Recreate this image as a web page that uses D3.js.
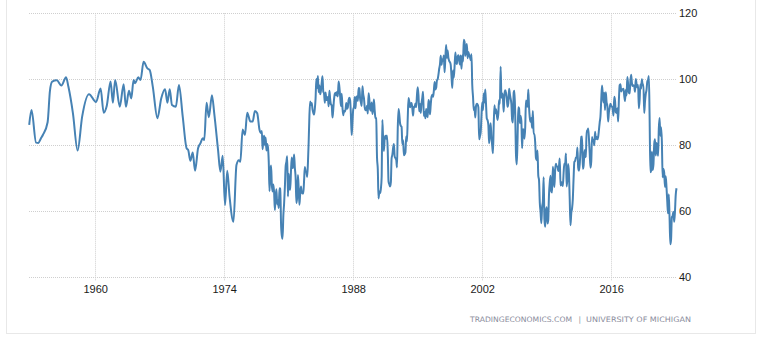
<!DOCTYPE html>
<html>
<head>
<meta charset="utf-8">
<script src="https://cdn.jsdelivr.net/npm/d3@7"></script>
<style>
  html, body { margin: 0; padding: 0; background: #fff; }
  svg { display: block; font-family: "Liberation Sans", Arial, sans-serif; }
</style>
</head>
<body>
<svg id="chart" width="767" height="339"></svg>
<script>
// ---- Data: University of Michigan Consumer Sentiment ----
// Early (irregular, roughly quarterly) observations
const earlyDates = [
  "1952-11","1953-02","1953-08","1953-11","1954-02","1954-05","1954-11","1955-02","1955-05","1955-11",
  "1956-05","1956-11","1957-02","1957-08","1958-02","1958-08","1959-05","1960-02","1960-08","1960-12",
  "1961-04","1961-09","1961-12","1962-03","1962-09","1963-02","1963-05","1963-09","1963-12","1964-03",
  "1964-05","1964-09","1964-12","1965-04","1965-09","1965-12","1966-04","1966-10","1967-03","1967-08",
  "1967-11","1968-02","1968-05","1968-10","1969-02","1969-07","1969-12","1970-02","1970-05","1970-08",
  "1970-11","1971-03","1971-06","1971-09","1971-11","1972-02","1972-05","1972-09","1972-12","1973-05",
  "1973-08","1973-11","1974-02","1974-05","1974-08","1975-01","1975-05","1975-08","1975-10","1976-01",
  "1976-04","1976-07","1976-11","1977-02","1977-05","1977-08","1977-11"
];
const earlyValues = [
  86.2, 90.7, 80.8, 80.7, 82.0, 83.2, 87.0, 96.5, 99.3, 99.7,
  98.1, 100.6, 97.8, 89.7, 78.4, 88.7, 95.5, 93.1, 97.2, 89.9,
  91.9, 99.3, 92.9, 99.8, 91.7, 98.5, 91.7, 96.5, 94.2, 99.8,
  98.8, 100.6, 99.8, 105.3, 103.3, 102.8, 97.8, 88.2, 94.2, 97.0,
  92.9, 97.0, 92.2, 91.7, 98.3, 88.7, 79.1, 78.6, 75.3, 77.8,
  72.3, 79.1, 80.6, 82.1, 81.6, 92.9, 88.5, 95.2, 89.7, 78.6,
  72.0, 76.8, 61.9, 72.3, 64.4, 56.8, 74.0, 75.5, 75.0, 84.8,
  83.1, 89.9, 87.2, 87.2, 90.4, 89.7, 84.6
];

// Monthly observations from January 1978 to February 2023
const monthlyStart = "1978-01";
const monthlyValues = [
  83.7, 84.3, 78.8, 81.6, 82.9, 80.0, 82.4, 78.4, 80.4, 79.3, 75.0, 66.1,   // 1978
  72.1, 73.9, 68.4, 66.0, 68.1, 65.8, 60.4, 64.5, 66.7, 62.1, 63.3, 61.0,   // 1979
  67.0, 66.9, 56.5, 52.7, 51.7, 58.7, 62.3, 67.3, 73.7, 75.0, 76.7, 64.5,   // 1980
  71.4, 66.9, 66.5, 72.4, 76.3, 73.1, 74.1, 77.2, 73.1, 70.3, 62.5, 64.3,   // 1981
  71.0, 66.5, 62.0, 65.5, 67.5, 65.7, 65.4, 65.4, 69.3, 73.4, 72.1, 71.9,   // 1982
  70.4, 74.6, 80.8, 89.1, 93.3, 92.2, 92.8, 90.9, 89.9, 89.3, 91.1, 94.2,   // 1983
  100.1, 97.4, 101.0, 96.1, 98.1, 95.5, 96.6, 99.1, 100.9, 96.3, 95.7, 92.9,// 1984
  96.0, 93.7, 93.7, 94.6, 91.8, 96.5, 94.0, 92.4, 92.1, 88.4, 90.9, 93.9,   // 1985
  95.6, 95.9, 95.1, 96.2, 94.8, 99.3, 97.7, 94.9, 91.9, 95.6, 91.4, 89.1,   // 1986
  90.4, 90.2, 90.8, 92.8, 91.1, 91.5, 93.7, 94.4, 93.6, 89.3, 83.1, 86.8,   // 1987
  90.8, 91.6, 94.6, 91.2, 94.8, 94.7, 93.4, 97.4, 97.3, 94.1, 93.0, 91.9,   // 1988
  97.9, 95.4, 94.3, 91.5, 90.7, 90.6, 92.0, 89.6, 95.8, 93.9, 90.9, 90.5,   // 1989
  93.0, 89.5, 91.3, 93.9, 90.6, 88.3, 88.2, 76.4, 72.8, 63.9, 66.0, 65.5,   // 1990
  66.8, 70.4, 87.7, 81.8, 78.3, 82.1, 82.9, 82.0, 83.0, 78.3, 69.1, 68.2,   // 1991
  67.5, 68.8, 76.0, 77.2, 79.2, 80.4, 76.6, 76.1, 75.6, 73.3, 85.3, 91.0,   // 1992
  89.3, 86.6, 85.9, 85.6, 80.3, 81.5, 77.0, 77.3, 77.9, 82.7, 81.2, 88.2,   // 1993
  94.3, 93.2, 91.5, 92.6, 92.8, 91.2, 89.0, 91.7, 91.5, 92.7, 91.6, 95.1,   // 1994
  97.6, 95.1, 90.3, 92.5, 89.8, 92.7, 94.4, 96.2, 88.9, 90.2, 88.2, 91.0,   // 1995
  89.3, 88.5, 93.7, 92.7, 89.4, 92.4, 94.7, 95.3, 94.7, 96.5, 99.2, 96.9,   // 1996
  97.4, 99.7, 100.0, 101.4, 103.2, 104.5, 107.1, 104.4, 106.0, 105.6, 107.2, 102.1, // 1997
  106.6, 110.4, 106.5, 108.7, 106.5, 105.6, 105.2, 104.4, 100.9, 97.4, 102.7, 100.5,// 1998
  103.9, 108.1, 105.7, 104.6, 106.8, 107.3, 106.0, 104.5, 107.2, 103.2, 107.2, 105.4,// 1999
  112.0, 111.3, 107.1, 109.2, 110.7, 106.4, 108.3, 107.3, 106.8, 105.8, 107.6, 98.4, // 2000
  94.7, 90.6, 91.5, 88.4, 92.0, 92.6, 92.4, 91.5, 81.8, 82.7, 83.9, 88.8,   // 2001
  93.0, 90.7, 95.7, 93.0, 96.9, 92.4, 88.1, 87.6, 86.1, 80.6, 84.2, 86.7,   // 2002
  82.4, 79.9, 77.6, 86.0, 92.1, 89.7, 90.9, 89.3, 87.7, 89.6, 93.7, 92.6,   // 2003
  103.8, 94.4, 95.8, 94.2, 90.2, 95.6, 96.7, 95.9, 94.2, 91.7, 92.8, 97.1,  // 2004
  95.5, 94.1, 92.6, 87.7, 86.9, 96.0, 96.5, 89.1, 76.9, 74.2, 81.6, 91.5,   // 2005
  91.2, 86.7, 88.9, 87.4, 79.1, 84.9, 84.7, 82.0, 85.4, 93.6, 92.1, 91.7,   // 2006
  96.9, 91.3, 88.4, 87.1, 88.3, 85.3, 90.4, 83.4, 83.4, 80.9, 76.1, 75.5,   // 2007
  78.4, 70.8, 69.5, 62.6, 59.8, 56.4, 61.2, 63.0, 70.3, 57.6, 55.3, 60.1,   // 2008
  61.2, 56.3, 57.3, 65.1, 68.7, 70.8, 66.0, 65.7, 73.5, 70.6, 67.4, 72.5,   // 2009
  74.4, 73.6, 73.6, 72.2, 73.6, 76.0, 67.8, 68.9, 68.2, 67.7, 71.6, 74.5,   // 2010
  74.2, 77.5, 67.5, 69.8, 74.3, 71.5, 63.7, 55.8, 59.5, 60.8, 63.7, 69.9,   // 2011
  75.0, 75.3, 76.2, 76.4, 79.3, 73.2, 72.3, 74.3, 78.3, 82.6, 82.7, 72.9,   // 2012
  73.8, 77.6, 78.6, 76.4, 84.5, 84.1, 85.1, 82.1, 77.5, 73.2, 75.1, 82.5,   // 2013
  81.2, 81.6, 80.0, 84.1, 81.9, 82.5, 81.8, 82.5, 84.6, 86.9, 88.8, 93.6,   // 2014
  98.1, 95.4, 93.0, 95.9, 90.7, 96.1, 93.1, 91.9, 87.2, 90.0, 91.3, 92.6,   // 2015
  92.0, 91.7, 91.0, 89.0, 94.7, 93.5, 90.0, 89.8, 91.2, 87.2, 93.8, 98.2,   // 2016
  98.5, 96.3, 96.9, 97.0, 97.1, 95.0, 93.4, 96.8, 95.1, 100.7, 98.5, 95.9,  // 2017
  95.7, 99.7, 101.4, 98.8, 98.0, 98.2, 97.9, 96.2, 100.1, 98.6, 97.5, 98.3, // 2018
  91.2, 93.8, 98.4, 97.2, 100.0, 98.2, 98.4, 89.8, 93.2, 95.5, 96.8, 99.3,  // 2019
  99.8, 101.0, 89.1, 71.8, 72.3, 78.1, 72.5, 74.1, 80.4, 81.8, 76.9, 80.7,  // 2020
  79.0, 76.8, 84.9, 88.3, 82.9, 85.5, 81.2, 70.3, 72.8, 71.7, 67.4, 70.6,   // 2021
  67.2, 62.8, 59.4, 65.2, 58.4, 50.0, 51.5, 58.2, 58.6, 59.9, 56.8, 59.7,   // 2022
  64.9, 67.0                                                                // 2023
];

const xTickYears = [1960, 1974, 1988, 2002, 2016];
const yTickValues = [40, 60, 80, 100, 120];
const sourceLeft = "TRADINGECONOMICS.COM";
const sourceSep = "|";
const sourceRight = "UNIVERSITY OF MICHIGAN";

// ---- Build series ----
const parseMonth = d3.timeParse("%Y-%m");
const series = earlyDates.map((d, i) => ({ date: parseMonth(d), value: earlyValues[i] }));
const start = parseMonth(monthlyStart);
monthlyValues.forEach((v, i) => {
  series.push({ date: d3.timeMonth.offset(start, i), value: v });
});

// ---- Layout ----
const svg = d3.select("#chart");
const plot = { left: 29.2, right: 676.5, top: 13.3, bottom: 277.3 };

// outer frame
svg.append("rect")
  .attr("x", 6.5).attr("y", -10)
  .attr("width", 749).attr("height", 343.5)
  .attr("fill", "none").attr("stroke", "#e8e8e8").attr("stroke-width", 1);

const x = d3.scaleTime()
  .domain(d3.extent(series, d => d.date))
  .range([plot.left, plot.right]);
const y = d3.scaleLinear()
  .domain([40, 120])
  .range([plot.bottom, plot.top]);

const gridColor = "#cfcfcf";

// horizontal gridlines
svg.append("g").selectAll("line")
  .data(yTickValues).join("line")
  .attr("x1", 29).attr("x2", 677)
  .attr("y1", d => Math.round(y(d)) + 0.5)
  .attr("y2", d => Math.round(y(d)) + 0.5)
  .attr("stroke", gridColor).attr("stroke-dasharray", "1,1");

// vertical gridlines
const yearDates = xTickYears.map(yv => new Date(yv, 0, 1));
svg.append("g").selectAll("line")
  .data(yearDates).join("line")
  .attr("x1", d => Math.round(x(d)) + 0.5)
  .attr("x2", d => Math.round(x(d)) + 0.5)
  .attr("y1", plot.top).attr("y2", plot.bottom + 3)
  .attr("stroke", gridColor).attr("stroke-dasharray", "1,1");

// y labels (right side)
svg.append("g").selectAll("text")
  .data(yTickValues).join("text")
  .attr("x", 679)
  .attr("y", d => y(d) + 4)
  .attr("font-size", "11px")
  .attr("fill", "#1a1a1a")
  .text(d => d);

// x labels
svg.append("g").selectAll("text")
  .data(yearDates).join("text")
  .attr("x", d => x(d) + 0.5)
  .attr("y", 293)
  .attr("text-anchor", "middle")
  .attr("font-size", "11px")
  .attr("fill", "#1a1a1a")
  .text(d => d3.timeFormat("%Y")(d));

// line
const line = d3.line()
  .x(d => x(d.date))
  .y(d => y(d.value))
  .curve(d3.curveMonotoneX);

svg.append("path")
  .datum(series)
  .attr("d", line)
  .attr("fill", "none")
  .attr("stroke", "#4682b4")
  .attr("stroke-width", 2)
  .attr("stroke-linejoin", "round");

// source text
const src = svg.append("g")
  .attr("font-family", "'DejaVu Sans', Verdana, sans-serif")
  .attr("font-size", "7.5px")
  .attr("fill", "#8a8c9c");
src.append("text").attr("x", 470).attr("y", 322)
  .attr("textLength", 102).attr("lengthAdjust", "spacingAndGlyphs")
  .text(sourceLeft);
src.append("text").attr("x", 578.5).attr("y", 322)
  .text(sourceSep);
src.append("text").attr("x", 586).attr("y", 322)
  .attr("textLength", 105).attr("lengthAdjust", "spacingAndGlyphs")
  .text(sourceRight);
</script>
</body>
</html>
